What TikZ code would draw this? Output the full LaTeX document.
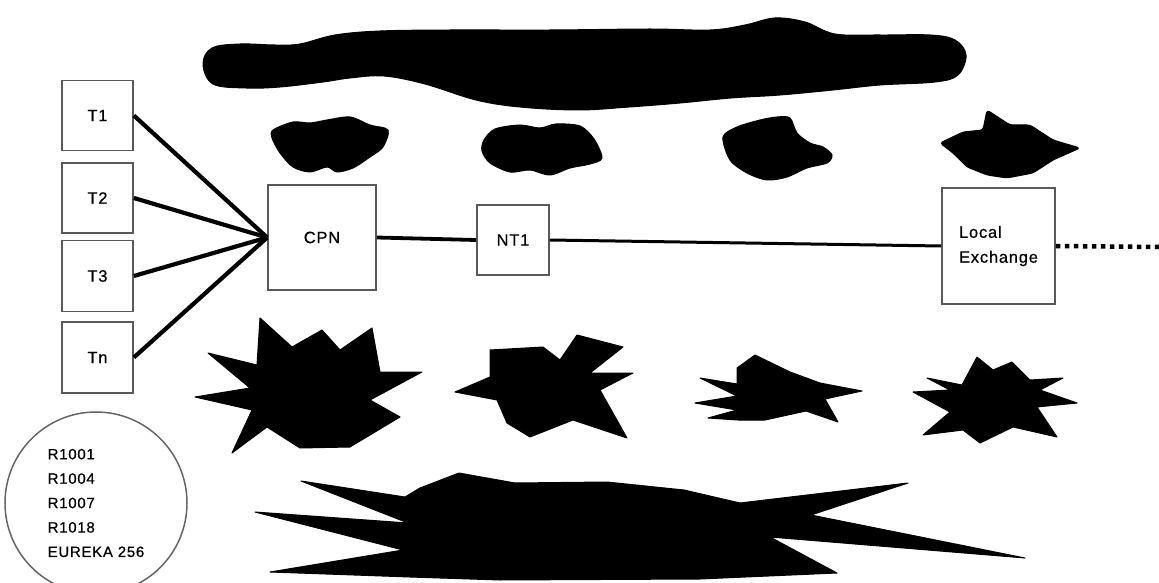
\documentclass[tikz,border=0pt]{standalone}
\usepackage{fontspec}
\setmainfont[LetterSpace=5,FakeBold=0.6]{Liberation Sans}
\begin{document}
\begin{tikzpicture}[x=1bp,y=-1bp,
  box/.style={draw=black!65,line width=1.7bp,fill=white,inner sep=0pt,
    font=\fontsize{16.5}{25}\selectfont},
  link/.style={line width=4.2bp,black},
  blob/.style={fill=black,draw=black,line width=1bp,line join=round}]
\useasboundingbox (0,0) rectangle (1159,583);
\fill[white] (0,0) rectangle (1159,583);

% terminals
\node[box,minimum width=71bp,minimum height=70bp] (t1) at (97.5,115.5) {T1};
\node[box,minimum width=71bp,minimum height=70bp] (t2) at (97.5,198) {T2};
\node[box,minimum width=71bp,minimum height=71bp] (t3) at (97.5,276) {T3};
\node[box,minimum width=71bp,minimum height=71bp] (tn) at (97.5,357.5) {Tn};

% network boxes
\node[box,minimum width=108bp,minimum height=105bp] (cpn) at (322,237.5) {CPN};
\node[box,minimum width=72bp,minimum height=70bp] (nt1) at (513,240) {NT1};
\node[box,minimum width=113bp,minimum height=116bp,align=left] (le) at (998.5,246)
  {Local\\Exchange};
\coordinate (beyond) at (1159,247);

% connectors
\foreach \t in {t1,t2,t3,tn} \draw[link] (\t.east) -- (cpn.west);
\draw[link,line width=3.8bp] (cpn.east) -- (nt1.west);
\draw[link,line width=3bp] (nt1.east) -- (le.west);
\draw[line width=4.5bp,dash pattern=on 4.5bp off 4.5bp] (le.east) -- (beyond);

% product list
\node[draw=black!60,line width=1.5bp,circle,minimum size=182bp,inner sep=0pt,
  align=left,font=\fontsize{15}{24.5}\selectfont] (list) at (96,503)
  {R1001\\R1004\\R1007\\R1018\\EUREKA 256};

% long band across the top
\draw[blob] plot[smooth cycle,tension=0.6] coordinates {
  (203,64) (212,48) (240,44) (275,45) (300,44) (335,35) (380,31) (450,30)
  (550,30) (650,29) (710,30) (745,25) (775,18) (805,22) (835,34) (880,35)
  (930,35) (955,40) (966,55) (958,75) (935,82) (880,85) (833,90) (780,95)
  (731,98) (680,103) (629,107) (578,110) (520,107) (476,100) (425,84)
  (384,76) (350,78) (323,82) (280,87) (246,88) (213,84)};

% small clouds
\draw[blob] plot[smooth cycle,tension=0.5] coordinates {
  (273,130) (293,122) (310,123) (327,120) (350,117) (370,125) (388,130)
  (383,147) (370,157) (353,168) (337,172) (327,167) (310,172) (293,167)
  (280,153) (272,138)};
\draw[blob] plot[smooth cycle,tension=0.5] coordinates {
  (484,140) (495,129) (520,125) (540,128) (556,124) (580,126) (594,139)
  (602,158) (590,164) (570,168) (550,175) (530,170) (510,172) (490,163)
  (482,151)};
\draw[blob] plot[smooth cycle,tension=0.5] coordinates {
  (723,137) (737,127) (760,120) (777,117) (790,118) (797,133) (810,143)
  (823,147) (832,155) (827,163) (807,168) (787,177) (767,180) (747,173)
  (730,160)};
\draw[blob,rounded corners=3bp] (940,143) -- (963,132) -- (983,130) -- (987,110)
  -- (1010,125) -- (1030,125) -- (1053,140) -- (1080,148) -- (1053,160)
  -- (1033,173) -- (1007,178) -- (987,175) -- (967,167) -- (953,153) -- cycle;

% bursts
\draw[blob] (195,397) -- (250,388) -- (208,353) -- (257,365) -- (260,318)
  -- (292,347) -- (322,330) -- (340,350) -- (372,328) -- (380,372)
  -- (422,372) -- (370,400) -- (400,417) -- (350,447) -- (300,448)
  -- (267,427) -- (232,453) -- (252,410) -- cycle;
\draw[blob] (455,392) -- (490,377) -- (490,350) -- (543,347) -- (560,360)
  -- (577,335) -- (623,347) -- (590,373) -- (633,373) -- (600,390)
  -- (627,438) -- (573,420) -- (530,437) -- (507,423) -- (497,400) -- cycle;
\draw[blob] (737,368) -- (755,355) -- (790,372) -- (820,383) -- (862,391)
  -- (825,399) -- (838,422) -- (806,411) -- (765,420) -- (738,420)
  -- (708,418) -- (737,410) -- (695,403) -- (737,396) -- (700,378)
  -- (737,384) -- cycle;
\draw[blob] (927,378) -- (962,385) -- (977,357) -- (993,370) -- (1012,362)
  -- (1030,380) -- (1063,378) -- (1040,390) -- (1077,403) -- (1037,407)
  -- (1057,437) -- (1013,427) -- (980,443) -- (963,430) -- (923,435)
  -- (950,412) -- (913,392) -- (950,390) -- cycle;
\draw[blob] (301,481) -- (405,497) -- (420,488) -- (459,473) -- (515,483)
  -- (607,482) -- (684,490) -- (740,503) -- (908,483) -- (811,515)
  -- (1025,558) -- (770,537) -- (837,573) -- (700,579) -- (500,580)
  -- (410,577) -- (270,572) -- (403,550) -- (255,512) -- (408,523) -- cycle;
\end{tikzpicture}
\end{document}
